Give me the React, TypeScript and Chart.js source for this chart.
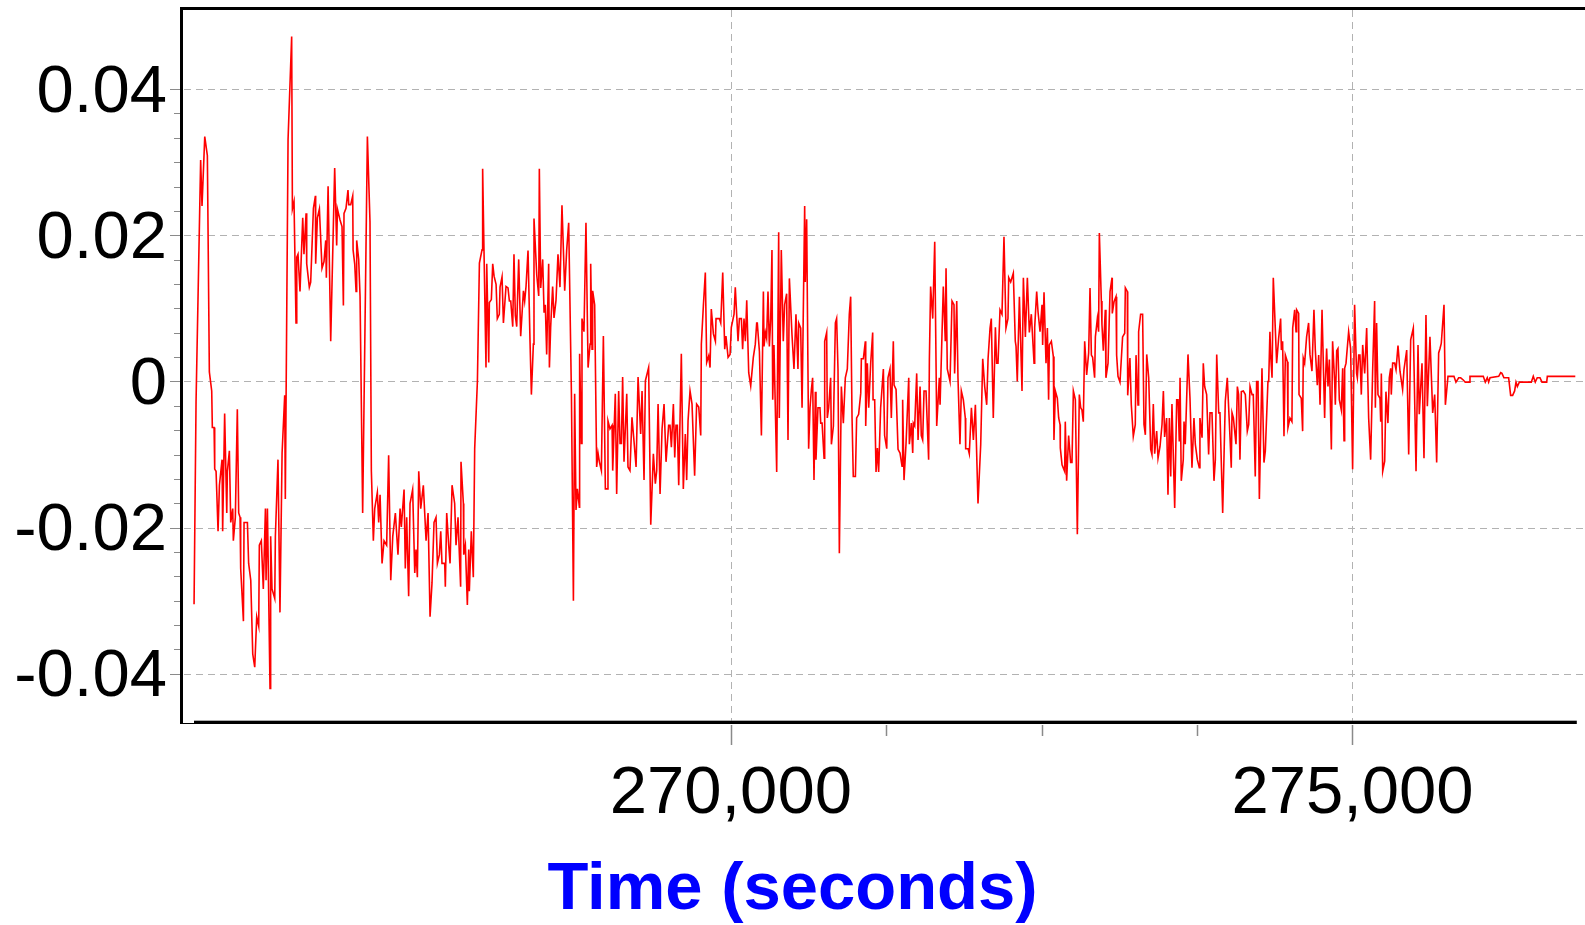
import React, { useEffect, useRef } from "react";
import { Chart, registerables } from "chart.js";

Chart.register(...registerables);

// ---------------- data (time in seconds, value) ----------------
const phase1Times = [
  265683, 265699, 265736, 265747, 265769, 265790, 265806, 265825, 265830, 265844,
  265849, 265860, 265876, 265887, 265908, 265913, 265929, 265946, 265951, 265967,
  265978, 265994, 265999, 266015, 266031, 266042, 266053, 266058, 266080, 266085,
  266112, 266122, 266139, 266155, 266171, 266187, 266203, 266208, 266224, 266240,
  266257, 266262, 266273, 266294, 266299, 266310, 266332, 266337, 266358, 266374,
  266391, 266412, 266417, 266439, 266468, 266474, 266487, 266503, 266509, 266519,
  266535, 266557, 266567, 266584, 266589, 266610, 266621, 266643, 266659, 266661,
  266675, 266691, 266712, 266728, 266742, 266747, 266761, 266782, 266814, 266830,
  266836, 266857, 266873, 266884, 266889, 266905, 266921, 266927, 266943, 266959,
  266962, 266975, 266986, 266991, 267007, 267018, 267039, 267077, 267098, 267109,
  267125, 267136, 267157, 267168, 267179, 267195, 267211, 267232, 267248, 267265,
  267281, 267302, 267323, 267340, 267350, 267372, 267382, 267393, 267409, 267420,
  267441, 267458, 267468, 267479, 267490, 267506, 267527, 267549, 267565, 267581,
  267597, 267613, 267629, 267640, 267656, 267667, 267677, 267699, 267704, 267715,
  267731, 267742, 267758, 267779, 267790, 267806, 267817, 267827, 267830, 267849,
  267852, 267865, 267881, 267892, 267897, 267913, 267929, 267940,
];
const phase1Values = [
  -0.0305, -0.0028, 0.0303, 0.024, 0.0335, 0.0309, 0.0013, -0.0013, -0.0063, -0.0063,
  -0.012, -0.0123, -0.0205, -0.0142, -0.0107, -0.0205, -0.0044, -0.018, -0.0123, -0.0095,
  -0.0193, -0.0174, -0.0218, -0.0186, -0.0038, -0.018, -0.0186, -0.0256, -0.0328, -0.0193,
  -0.0193, -0.0249, -0.0272, -0.0373, -0.0391, -0.0322, -0.0335, -0.0224, -0.0218, -0.0284,
  -0.0174, -0.0272, -0.0174, -0.042, -0.0212, -0.0284, -0.0297, -0.0212, -0.0107, -0.0316,
  -0.0098, -0.0019, -0.0161, 0.0331, 0.0472, 0.0236, 0.0246, 0.008, 0.017, 0.0174,
  0.0123, 0.0224, 0.0174, 0.023, 0.0161, 0.0129, 0.0136, 0.0237, 0.0254, 0.0161,
  0.0224, 0.0236, 0.0155, 0.0164, 0.0193, 0.0142, 0.0267, 0.0055, 0.0292, 0.0186,
  0.0236, 0.0221, 0.0212, 0.0104, 0.023, 0.0237, 0.0262, 0.0242, 0.0242, 0.0254,
  0.018, 0.0161, 0.0123, 0.0193, 0.0167, 0.0117, -0.018, 0.0335, 0.0218, -0.0123,
  -0.0218, -0.0174, -0.0152, -0.0193, -0.0155, -0.0249, -0.0218, -0.0224, -0.0101, -0.0272,
  -0.0212, -0.018, -0.0237, -0.0174, -0.0199, -0.0148, -0.0256, -0.0186, -0.0294, -0.0167,
  -0.0148, -0.0262, -0.023, -0.0268, -0.0123, -0.0174, -0.0142, -0.0218, -0.018, -0.0322,
  -0.0275, -0.0193, -0.0186, -0.0249, -0.0237, -0.0205, -0.0249, -0.0249, -0.0281, -0.018,
  -0.0224, -0.0249, -0.0142, -0.0167, -0.0224, -0.0186, -0.0237, -0.0281, -0.011, -0.0167,
  -0.0237, -0.0224, -0.0306, -0.023, -0.0287, -0.0205, -0.0268, -0.0092,
];

const phase2Times = [
  267962, 267978, 267999, 268004, 268015, 268031, 268037, 268053, 268058, 268074,
  268085, 268096, 268112, 268122, 268138, 268144, 268160, 268171, 268192, 268208,
  268219, 268230, 268246, 268256, 268267, 268278, 268294, 268310, 268332, 268342,
  268353, 268369, 268385, 268396, 268412, 268417, 268439, 268455, 268460, 268471,
  268487, 268498, 268508, 268519, 268535, 268541, 268551, 268567, 268578, 268594,
  268610, 268626, 268642, 268664, 268680, 268696, 268718, 268734, 268744, 268755,
  268766, 268782, 268784, 268798, 268803, 268819, 268835, 268852, 268868, 268873,
  268884, 268889, 268905, 268921, 268932, 268943, 268959, 268975, 268991, 269007,
  269012, 269028, 269045, 269050, 269071, 269082, 269098, 269109, 269120, 269130,
  269141, 269163, 269173, 269189, 269205, 269222, 269238, 269254, 269275, 269286,
  269302, 269313, 269339, 269356, 269377, 269393, 269404, 269415, 269431, 269447,
  269463, 269479, 269500, 269511, 269522, 269538, 269549, 269559, 269570, 269581,
  269602, 269618, 269634, 269645, 269656, 269672, 269688, 269709, 269725, 269742,
  269758, 269763, 269779, 269795, 269806, 269822, 269833, 269843, 269860, 269876,
  269881, 269908, 269919, 269935, 269951, 269961, 269978, 269994, 270004, 270026,
  270036, 270058, 270069, 270085, 270095, 270106, 270117, 270128, 270144, 270160,
  270181, 270197, 270208,
];
const phase2Values = [
  0.0001, 0.0162, 0.018, 0.0291, 0.0178, 0.0019, 0.0161, 0.0026, 0.0108, 0.0112,
  0.0161, 0.0144, 0.0133, 0.0086, 0.0092, 0.0129, 0.0143, 0.008, 0.013, 0.0128,
  0.011, 0.011, 0.0075, 0.0174, 0.009, 0.0075, 0.0167, 0.0062, 0.0124, 0.011,
  0.013, 0.0179, 0.0055, -0.0018, 0.0051, 0.0223, 0.0146, 0.0117, 0.0291, 0.0128,
  0.0167, 0.0094, 0.0105, 0.0037, 0.0161, 0.0019, 0.0074, 0.013, 0.0087, 0.0111,
  0.0174, 0.0129, 0.0241, 0.0124, 0.018, 0.0217, -0.0017, -0.03, -0.0017, -0.0176,
  -0.0147, -0.0172, 0.0038, -0.0085, 0.0086, 0.0068, 0.0217, 0.0019, 0.0051, 0.0161,
  0.0044, 0.0124, 0.0105, -0.0117, -0.0098, -0.011, -0.0122, 0.0062, -0.0147, -0.0147,
  -0.0054, -0.0065, -0.006, -0.0122, -0.0017, -0.0154, -0.0013, -0.0085, -0.0085, 0.0006,
  -0.011, -0.0017, -0.0117, -0.0122, -0.0049, -0.0083, -0.0117, 0.0006, -0.0072, -0.0013,
  -0.0135, 0.0001, 0.0019, -0.0196, -0.0099, -0.014, -0.0122, -0.0031, -0.0154, -0.0065,
  -0.0031, -0.011, -0.006, -0.006, -0.009, -0.0031, -0.0104, -0.006, -0.006, -0.0142,
  0.0038, -0.0147, -0.0072, -0.0135, -0.0054, -0.0013, -0.0031, -0.0129, -0.0031, -0.0035,
  -0.0074, 0.0051, 0.0103, 0.0149, 0.0026, 0.0035, 0.0019, 0.0099, 0.0065, 0.0055,
  0.0086, 0.0086, 0.008, 0.0149, 0.0044, 0.0062, 0.0033, 0.0037, 0.0074, 0.0092,
  0.0129, 0.0055, 0.0086, 0.0086, 0.0044, 0.0086, 0.0055, 0.0111, 0.0012, -0.0006,
  0.0033, 0.0051, 0.008,
];

const phase3Times = [
  270213, 270230, 270246, 270262, 270267, 270278, 270288, 270299, 270310, 270321,
  270331, 270337, 270347, 270369, 270385, 270390, 270406, 270422, 270433, 270449,
  270460, 270471, 270492, 270508, 270524, 270540, 270546, 270562, 270573, 270594,
  270599, 270610, 270626, 270637, 270648, 270658, 270669, 270680, 270685, 270701,
  270717, 270723, 270734, 270750, 270755, 270771, 270776, 270787, 270803, 270809,
  270825, 270841, 270851, 270862, 270873, 270889, 270905, 270921, 270937, 270953,
  270964, 270975, 270985, 271002, 271012, 271028, 271045, 271050, 271066, 271082,
  271085, 271098, 271109, 271125, 271141, 271144, 271157, 271168, 271179, 271189,
  271205, 271227, 271237, 271254, 271264, 271280, 271291, 271307, 271313, 271329,
  271345, 271361, 271377, 271382, 271393, 271409, 271431, 271436, 271452, 271463,
  271468, 271479, 271495, 271506, 271522, 271532, 271543, 271554, 271570, 271591,
  271597, 271607, 271624, 271640, 271656, 271677, 271683, 271709, 271725, 271731,
  271741, 271763, 271779, 271795, 271800, 271817, 271827, 271843, 271854, 271870,
  271886, 271889, 271908, 271918, 271935, 271951, 271967, 271988, 272010, 272026,
  272042, 272058, 272069, 272085, 272095, 272111, 272128, 272138, 272149, 272165,
  272181, 272197, 272213, 272229, 272235, 272251, 272272, 272288, 272294, 272304,
  272321, 272342, 272353, 272369, 272385, 272401, 272417, 272439, 272444, 272460,
];
const phase3Values = [
  0.008, 0.0041, -0.0074, 0.0123, 0.0048, 0.0067, 0.0059, 0.0123, 0.0048, 0.0086,
  0.018, -0.0025, 0.005, -0.0124, 0.0204, -0.005, 0.018, 0.0055, 0.0105, 0.012,
  -0.008, 0.0141, 0.0064, 0.0017, 0.0092, 0.0017, 0.008, 0.0073, -0.0036, 0.024,
  0.0136, 0.0222, -0.0092, -0.0036, -0.0011, 0.0005, -0.0135, -0.0014, -0.0107, -0.0036,
  -0.0036, -0.0057, -0.0057, -0.0105, 0.0055, 0.0067, -0.005, -0.0036, 0.0005, -0.0086,
  -0.0061, 0.008, 0.0086, 0.0017, -0.0235, -0.0007, -0.0057, 0.0005, 0.0017, 0.0092,
  0.0116, -0.005, -0.013, -0.013, -0.005, -0.0045, -0.0016, 0.0031, 0.0031, 0.0055,
  -0.0061, 0.0025, -0.0036, 0.0025, 0.0067, -0.0025, -0.0025, -0.0124, -0.0091, -0.0124,
  -0.0036, 0.0017, -0.0074, -0.0092, 0.0005, 0.0017, -0.005, 0.0055, -0.0005, -0.0011,
  -0.0093, -0.0098, -0.0116, -0.0025, -0.0135, -0.0086, 0.0005, -0.0086, -0.0057, -0.0098,
  -0.0057, -0.0061, 0.0011, -0.008, -0.0007, -0.0074, -0.008, -0.0013, -0.0013, -0.0107,
  0.003, 0.013, 0.0086, 0.0191, -0.0061, 0.0005, -0.0032, 0.013, 0.0055, 0.0155,
  0.0017, 0, 0.011, 0.0105, 0.0011, 0.011, 0.0005, -0.0086, -0.0013, -0.0025,
  -0.005, -0.0092, -0.0092, -0.0099, -0.0036, -0.008, -0.0032, -0.0167, -0.0086, 0.0031,
  -0.0007, -0.0032, 0.0031, 0.0073, 0.0086, -0.005, 0.0074, 0.0025, 0.0025, 0.0098,
  0.0092, 0.0198, 0.0073, 0.0086, 0.0142, 0.0136, 0.0148, 0.0055, 0.0048, 0,
  0.0116, -0.0013, 0.0142, 0.0061, 0.0142, 0.0067, 0.0092, 0.0025, 0.0074, 0.0123,
];

const phase4Times = [
  272471, 272487, 272503, 272508, 272519, 272535, 272546, 272556, 272562, 272578,
  272594, 272599, 272610, 272626, 272637, 272648, 272650, 272664, 272685, 272690,
  272701, 272717, 272733, 272744, 272755, 272771, 272787, 272803, 272814, 272824,
  272835, 272846, 272862, 272878, 272889, 272900, 272910, 272926, 272932, 272948,
  272958, 272964, 272980, 272985, 272996, 273012, 273017, 273034, 273050, 273066,
  273068, 273082, 273098, 273103, 273114, 273130, 273151, 273168, 273173, 273189,
  273192, 273210, 273221, 273237, 273253, 273259, 273275, 273280, 273296, 273312,
  273323, 273334, 273345, 273361, 273377, 273387, 273398, 273409, 273425, 273436,
  273452, 273468, 273479, 273489, 273505, 273516, 273527, 273538, 273548, 273570,
  273586, 273597, 273607, 273613, 273623, 273639, 273645, 273655, 273677, 273693,
  273709, 273725, 273736, 273752, 273768, 273773, 273790, 273800, 273811, 273827,
  273843, 273854, 273870, 273886, 273897, 273908, 273924, 273934, 273956, 273977,
  273993, 274015, 274025, 274031, 274042, 274063, 274074, 274084, 274095, 274106,
  274122, 274138, 274154, 274165, 274176, 274192, 274202, 274218, 274229, 274240,
  274251, 274272, 274288, 274299, 274320, 274326, 274336, 274342, 274353, 274363,
  274379, 274390, 274406, 274422, 274428, 274438, 274449, 274460, 274476, 274481,
  274497, 274513, 274519, 274535, 274546, 274551, 274567, 274570, 274588, 274599,
  274604, 274615, 274631, 274647, 274658, 274674, 274690, 274701, 274717,
];
const phase4Values = [
  0.0095, 0.0068, 0.0105, 0.005, 0.0122, 0.0025, 0.0073, -0.0025, 0.005, 0.0055,
  0.0034, -0.008, -0.0013, -0.0023, -0.005, -0.0059, -0.0091, -0.0114, -0.0123, -0.0055,
  -0.0136, -0.0074, -0.0111, -0.0111, -0.0013, -0.0025, -0.0209, -0.0018, -0.0036, -0.0039,
  -0.0055, 0.0055, 0.0009, 0.0039, 0.0128, 0.0036, 0.0033, 0.0005, 0.0061, 0.0086,
  0.0068, 0.0203, 0.011, 0.0078, 0.0042, 0.0098, 0.0005, 0.0025, 0.0123, 0.0142,
  0.0093, 0.0109, 0.0116, 0.0036, 0.0007, -0.0001, 0.0061, 0.0066, 0.0128, 0.0123,
  -0.0019, 0.0032, -0.0032, -0.0075, -0.0059, 0.0036, -0.0032, 0.0068, 0.0092, 0.0092,
  -0.0059, -0.0073, 0.0037, 0.0005, -0.0093, -0.01, -0.0031, -0.0099, -0.0068, -0.0105,
  -0.0089, -0.0059, -0.0013, -0.0076, -0.005, -0.0155, -0.005, -0.013, -0.0031, -0.0173,
  -0.0025, -0.0025, -0.0082, 0.0005, -0.0136, -0.0107, -0.0055, -0.0086, 0.0037, -0.0023,
  -0.0118, -0.005, -0.0086, -0.0107, -0.0118, -0.005, -0.0077, 0.0025, -0.0007, -0.0018,
  -0.01, -0.0043, -0.0043, -0.0136, -0.0107, 0.0037, -0.0043, -0.0043, -0.018, -0.0027,
  0.0005, -0.0077, -0.0118, -0.0043, -0.005, -0.0086, -0.0007, -0.0018, -0.0107, -0.0014,
  -0.0013, -0.0018, -0.0068, -0.0059, -0.0007, -0.0018, -0.0018, -0.013, 0, 0,
  -0.0161, 0.0018, -0.0111, -0.0095, 0, 0, 0.0068, 0.0036, 0.0005, 0.0142,
  0.0073, 0.0025, 0.0059, 0.0086, 0.0043, 0.0055, -0.0075, 0.0036, 0.0027, -0.0063,
  -0.005, -0.0055, 0.0073, 0.0098, 0.0068, 0.0098, 0.0093, -0.0018, -0.0023, -0.0068,
  0.0032, 0.0025, 0.0061, 0.008, 0.0037, 0.0014, 0.0098, 0.0043, -0.0005,
];

const phase5Times = [
  274728, 274739, 274755, 274776, 274781, 274792, 274803, 274814, 274830, 274840,
  274857, 274862, 274873, 274883, 274894, 274910, 274921, 274932, 274937, 274948,
  274969, 274985, 275001, 275017, 275033, 275039, 275050, 275060, 275071, 275082,
  275098, 275114, 275130, 275146, 275162, 275178, 275184, 275194, 275205, 275221,
  275227, 275232, 275243, 275259, 275269, 275285, 275296, 275307, 275312, 275323,
  275339, 275350, 275366, 275382, 275403, 275414, 275436, 275452, 275468, 275489,
  275511, 275527, 275537, 275559, 275575, 275591, 275602, 275623, 275645, 275661,
  275677, 275693, 275704, 275714, 275736, 275747, 275768,
  275816, 275832, 275854, 275870, 275891, 275907, 275940, 275945, 276052, 276068,
  276084, 276095, 276106, 276176, 276192, 276202, 276218, 276256, 276272, 276288,
  276304, 276315, 276326, 276342, 276438, 276454, 276470, 276486, 276508, 276524,
  276562, 276567, 276792,
];
const phase5Values = [
  0.0036, -0.0032, 0.0098, -0.005, -0.0007, 0.0045, -0.0007, 0.003, -0.0093, 0.0055,
  -0.0002, -0.0032, 0.0042, 0.0045, -0.0025, -0.0039, 0.0018, -0.0081, 0.0018, 0.0025,
  0.0068, 0.0045, -0.012, 0.0105, 0.0011, 0.0005, 0.0036, 0.0036, -0.0018, 0.005,
  0.0011, 0.0073, -0.005, -0.0107, 0.0014, 0.011, -0.0036, 0.008, -0.0018, -0.0023,
  -0.0055, 0.0011, -0.0123, -0.0109, -0.0014, -0.0057, 0.0005, 0.0018, -0.0018, 0.0025,
  0.0025, 0.0016, 0.0049, 0.0014, -0.0011, 0.0016, 0.0043, -0.01, 0.0057, 0.0073,
  -0.0123, 0.005, -0.0045, 0.0025, -0.0105, 0.0091, -0.0034, 0.0061, -0.0043, -0.0018,
  -0.0111, 0.0039, 0.0045, 0.0052, 0.0105, -0.0032, 0.0007,
  0.0007, -0.0001, 0.0005, 0.0005, 0.0002, -0.0001, -0.0001, 0.0007, 0.0007, -0.0001,
  0.0005, -0.0001, 0.0005, 0.0007, 0.0012, 0.0011, 0.0005, 0.0005, -0.0019, -0.0019,
  -0.0013, -0.0001, -0.0007, -0.0001, -0.0001, 0.0007, -0.0001, 0.0005, 0.0005, -0.0001,
  -0.0001, 0.0007, 0.0007,
];

// ---------------- axes ----------------
const xMajorTicks = [270000, 275000];
const xMinorTicks = [271250, 272500, 273750];
const yMajorTicks = [-0.04, -0.02, 0, 0.02, 0.04];
const yMinorDivisions = 6;
const xRange = [265586, 276870];
const xAxisEnd = 276804;
const yRange = [-0.0466, 0.0511];
const xTitle = "Time (seconds)";

const FONT = "'Liberation Sans', Arial, Helvetica, sans-serif";

function buildPoints() {
  const phases: [number[], number[]][] = [
    [phase1Times, phase1Values],
    [phase2Times, phase2Values],
    [phase3Times, phase3Values],
    [phase4Times, phase4Values],
    [phase5Times, phase5Values],
  ];
  const pts: { x: number; y: number }[] = [];
  for (const [t, v] of phases) {
    const n = Math.min(t.length, v.length);
    for (let i = 0; i < n; i++) pts.push({ x: t[i], y: v[i] });
  }
  return pts;
}

const formatX = (v: number) =>
  Math.round(v).toString().replace(/\B(?=(\d{3})+(?!\d))/g, ",");
const formatY = (v: number) => (Math.abs(v) < 1e-9 ? "0" : v.toFixed(2));

const framePlugin = {
  id: "frame",
  beforeDatasetsDraw(chart: any) {
    const { ctx, chartArea, scales } = chart;
    const x = scales.x;
    const y = scales.y;
    ctx.save();
    ctx.strokeStyle = "#b2b2b2";
    ctx.lineWidth = 1;
    ctx.setLineDash([7, 5]);
    for (const v of yMajorTicks) {
      const py = Math.round(y.getPixelForValue(v)) + 0.5;
      ctx.beginPath();
      ctx.moveTo(chartArea.left + 2, py);
      ctx.lineTo(chart.width, py);
      ctx.stroke();
    }
    for (const v of xMajorTicks) {
      const px = Math.round(x.getPixelForValue(v)) + 0.5;
      ctx.beginPath();
      ctx.moveTo(px, chartArea.top + 2);
      ctx.lineTo(px, chartArea.bottom);
      ctx.stroke();
    }
    ctx.restore();
  },
  afterDatasetsDraw(chart: any) {
    const { ctx, chartArea, scales } = chart;
    const x = scales.x;
    const y = scales.y;
    const left = chartArea.left;
    const top = chartArea.top;
    const bottom = chartArea.bottom;
    const axisEnd = x.getPixelForValue(xAxisEnd);
    ctx.save();
    ctx.setLineDash([]);
    // tick marks
    ctx.strokeStyle = "#8a8a8a";
    ctx.lineWidth = 1.5;
    for (const v of xMajorTicks) {
      const px = Math.round(x.getPixelForValue(v)) + 0.5;
      ctx.beginPath();
      ctx.moveTo(px, bottom + 3);
      ctx.lineTo(px, bottom + 23);
      ctx.stroke();
    }
    for (const v of xMinorTicks) {
      const px = Math.round(x.getPixelForValue(v)) + 0.5;
      ctx.beginPath();
      ctx.moveTo(px, bottom + 3);
      ctx.lineTo(px, bottom + 14);
      ctx.stroke();
    }
    ctx.lineWidth = 1;
    for (let i = 0; i < yMajorTicks.length; i++) {
      const v = yMajorTicks[i];
      const py = Math.round(y.getPixelForValue(v)) + 0.5;
      ctx.beginPath();
      ctx.moveTo(left - 12, py);
      ctx.lineTo(left - 2, py);
      ctx.stroke();
      if (i < yMajorTicks.length - 1) {
        const step = (yMajorTicks[i + 1] - v) / yMinorDivisions;
        for (let k = 1; k < yMinorDivisions; k++) {
          const pm = Math.round(y.getPixelForValue(v + step * k)) + 0.5;
          ctx.beginPath();
          ctx.moveTo(left - 8, pm);
          ctx.lineTo(left - 2, pm);
          ctx.stroke();
        }
      }
    }
    // frame lines
    ctx.fillStyle = "#000000";
    ctx.fillRect(left - 2, top - 1, chart.width - (left - 2), 3); // top border
    ctx.fillRect(left - 2, top - 1, 3, bottom - top + 3); // left axis
    ctx.fillRect(left - 1, bottom + 1, 13, 1); // small stub
    ctx.fillStyle = "rgba(120,120,120,0.6)";
    ctx.fillRect(left + 12, bottom - 2, axisEnd - left - 12, 1);
    ctx.fillStyle = "#000000";
    ctx.fillRect(left + 12, bottom - 1, axisEnd - left - 12, 3); // bottom axis
    ctx.restore();
  },
};

export default function App() {
  const canvasRef = useRef<HTMLCanvasElement | null>(null);

  useEffect(() => {
    if (!canvasRef.current) return;
    Chart.defaults.font.family = FONT;
    const chart = new Chart(canvasRef.current, {
      type: "line",
      data: {
        datasets: [
          {
            data: buildPoints(),
            borderColor: "#ff0000",
            borderWidth: 1.6,
            pointRadius: 0,
            pointHoverRadius: 0,
            tension: 0,
            fill: false,
          },
        ],
      },
      options: {
        animation: false,
        responsive: false,
        devicePixelRatio: 1,
        events: [],
        parsing: false,
        layout: { padding: { top: 8, left: 0, right: 0, bottom: 0 } },
        plugins: {
          legend: { display: false },
          tooltip: { enabled: false },
          title: {
            display: true,
            position: "bottom",
            text: xTitle,
            color: "#0000ff",
            font: { family: FONT, size: 67, weight: "bold", lineHeight: 1 },
            padding: { top: 0, bottom: 1 },
          },
        },
        scales: {
          x: {
            type: "linear",
            min: xRange[0],
            max: xRange[1],
            afterBuildTicks: (scale: any) => {
              scale.ticks = xMajorTicks.map((v) => ({ value: v }));
            },
            afterFit: (scale: any) => {
              scale.height = 135;
              scale.paddingLeft = 0;
              scale.paddingRight = 0;
            },
            ticks: {
              callback: (v: any) => formatX(Number(v)),
              color: "#000000",
              font: { family: FONT, size: 67, lineHeight: 1.2 },
              padding: 32,
              maxRotation: 0,
              autoSkip: false,
            },
            grid: { display: false, drawTicks: false },
            border: { display: false },
          },
          y: {
            type: "linear",
            min: yRange[0],
            max: yRange[1],
            afterBuildTicks: (scale: any) => {
              scale.ticks = yMajorTicks.map((v) => ({ value: v }));
            },
            afterFit: (scale: any) => {
              scale.width = 182;
              scale.paddingTop = 0;
              scale.paddingBottom = 0;
            },
            ticks: {
              callback: (v: any) => formatY(Number(v)),
              color: "#000000",
              font: { family: FONT, size: 67 },
              padding: 15,
              labelOffset: 4,
              autoSkip: false,
            },
            grid: { display: false, drawTicks: false },
            border: { display: false },
          },
        },
      } as any,
      plugins: [framePlugin],
    });
    return () => chart.destroy();
  }, []);

  return (
    <div
      style={{
        position: "fixed",
        left: 0,
        top: 0,
        width: 1585,
        height: 925,
        background: "#ffffff",
      }}
    >
      <canvas
        ref={canvasRef}
        width={1585}
        height={925}
        style={{ display: "block", width: 1585, height: 925 }}
      />
    </div>
  );
}
